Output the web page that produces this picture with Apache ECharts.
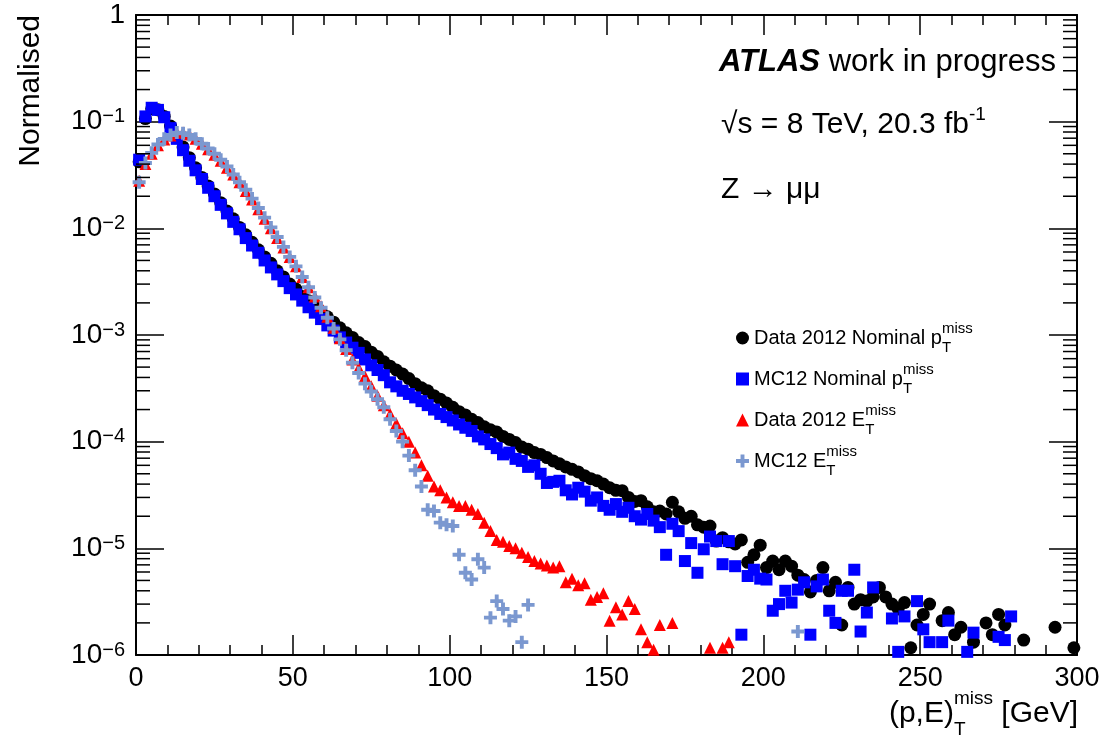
<!DOCTYPE html>
<html>
<head>
<meta charset="utf-8">
<script src="https://cdn.jsdelivr.net/npm/echarts@6/dist/echarts.min.js"></script>
<style>
html,body{margin:0;padding:0;background:#fff;}
#chart{width:1105px;height:752px;}
</style>
</head>
<body>
<div id="chart"></div>
<script>
// ---------------- data ----------------
const binCenters = [1,3,5,7,9,11,13,15,17,19,21,23,25,27,29,31,33,35,37,39,41,43,45,47,49,
  51,53,55,57,59,61,63,65,67,69,71,73,75,77,79,81,83,85,87,89,91,93,95,97,99,
  101,103,105,107,109,111,113,115,117,119,121,123,125,127,129,131,133,135,137,139,141,143,145,147,149,
  151,153,155,157,159,161,163,165,167,169,171,173,175,177,179,181,183,185,187,189,191,193,195,197,199,
  201,203,205,207,209,211,213,215,217,219,221,223,225,227,229,231,233,235,237,239,241,243,245,247,249,
  251,253,255,257,259,261,263,265,267,269,271,273,275,277,279,281,283,285,287,289,291,293,295,297,299];

const xTickLabels = [0, 50, 100, 150, 200, 250, 300];

// Data 2012 Nominal pT miss
const dataNominalPt = [4.2e-2,1.07e-1,1.32e-1,1.29e-1,1.12e-1,9.1e-2,7.2e-2,5.8e-2,4.6e-2,3.7e-2,
  3.0e-2,2.5e-2,2.1e-2,1.74e-2,1.45e-2,1.23e-2,1.02e-2,8.7e-3,7.4e-3,6.3e-3,
  5.4e-3,4.7e-3,4.0e-3,3.5e-3,3.0e-3,2.7e-3,2.3e-3,2.1e-3,1.86e-3,1.66e-3,
  1.48e-3,1.32e-3,1.17e-3,1.05e-3,9.5e-4,8.5e-4,7.8e-4,6.9e-4,6.3e-4,5.6e-4,
  5.1e-4,4.7e-4,4.3e-4,3.9e-4,3.5e-4,3.2e-4,3.0e-4,2.7e-4,2.5e-4,2.3e-4,
  2.1e-4,1.91e-4,1.78e-4,1.62e-4,1.51e-4,1.38e-4,1.29e-4,1.23e-4,1.12e-4,1.05e-4,
  9.8e-5,8.9e-5,8.5e-5,7.9e-5,7.6e-5,7.1e-5,6.6e-5,6.2e-5,5.8e-5,5.5e-5,
  5.2e-5,4.8e-5,4.5e-5,4.3e-5,4.0e-5,3.7e-5,3.5e-5,3.47e-5,3.0e-5,2.75e-5,
  2.8e-5,2.45e-5,2.2e-5,2.24e-5,2.1e-5,2.7e-5,2.2e-5,1.91e-5,2.0e-5,1.66e-5,
  1.58e-5,1.62e-5,1.17e-5,1.26e-5,1.15e-5,1.10e-5,1.20e-5,7.4e-6,8.7e-6,1.07e-5,
  6.6e-6,7.6e-6,6.3e-6,7.6e-6,6.8e-6,5.6e-6,5.1e-6,3.9e-6,5.0e-6,6.6e-6,
  4.0e-6,4.8e-6,1.91e-6,4.3e-6,3.0e-6,3.3e-6,3.2e-6,3.5e-6,4.3e-6,3.5e-6,
  3.0e-6,2.7e-6,3.1e-6,1.17e-6,1.91e-6,2.4e-6,3.0e-6,null,2.1e-6,2.5e-6,
  1.55e-6,1.82e-6,null,1.32e-6,null,2.0e-6,1.55e-6,2.4e-6,1.91e-6,null,
  null,1.38e-6,null,null,null,null,1.82e-6,null,null,1.17e-6];

// MC12 Nominal pT miss
const mcNominalPt = [4.4e-2,1.12e-1,1.35e-1,1.29e-1,1.10e-1,8.7e-2,6.9e-2,5.4e-2,4.3e-2,3.5e-2,
  2.9e-2,2.4e-2,2.0e-2,1.66e-2,1.38e-2,1.15e-2,9.8e-3,8.1e-3,6.9e-3,5.9e-3,
  5.0e-3,4.3e-3,3.7e-3,3.2e-3,2.75e-3,2.4e-3,2.1e-3,1.82e-3,1.62e-3,1.41e-3,
  1.23e-3,1.10e-3,9.5e-4,8.5e-4,7.6e-4,6.8e-4,5.9e-4,5.2e-4,4.7e-4,4.2e-4,
  3.6e-4,3.3e-4,3.0e-4,2.8e-4,2.6e-4,2.4e-4,2.2e-4,2.0e-4,1.82e-4,1.70e-4,
  1.58e-4,1.45e-4,1.35e-4,1.26e-4,1.12e-4,1.05e-4,9.5e-5,8.7e-5,7.6e-5,7.9e-5,
  6.9e-5,6.6e-5,5.8e-5,6.0e-5,5.0e-5,4.1e-5,4.2e-5,4.3e-5,3.5e-5,3.2e-5,
  3.7e-5,3.4e-5,2.8e-5,3.0e-5,2.5e-5,2.3e-5,2.6e-5,2.2e-5,2.4e-5,2.0e-5,
  1.86e-5,2.1e-5,1.82e-5,1.58e-5,8.7e-6,1.70e-5,1.45e-5,7.6e-6,1.12e-5,5.9e-6,
  9.8e-6,1.29e-5,1.17e-5,7.1e-6,1.17e-5,6.8e-6,1.55e-6,5.5e-6,6.3e-6,5.2e-6,
  5.1e-6,2.6e-6,3.0e-6,4.0e-6,3.1e-6,4.1e-6,4.8e-6,1.55e-6,4.4e-6,5.1e-6,
  2.6e-6,2.0e-6,4.0e-6,4.0e-6,6.3e-6,1.66e-6,2.5e-6,4.3e-6,null,null,
  2.2e-6,1.07e-6,2.3e-6,null,3.2e-6,1.74e-6,1.32e-6,null,1.32e-6,2.1e-6,
  null,null,1.07e-6,1.62e-6,null,null,null,1.48e-6,1.38e-6,2.3e-6];

// Data 2012 ET miss
const dataEt = [2.8e-2,4.0e-2,5.0e-2,6.0e-2,6.8e-2,7.4e-2,7.9e-2,7.9e-2,7.6e-2,6.9e-2,
  6.2e-2,5.5e-2,4.9e-2,4.3e-2,3.7e-2,3.2e-2,2.7e-2,2.24e-2,1.86e-2,1.51e-2,
  1.23e-2,1.0e-2,8.1e-3,6.6e-3,5.4e-3,4.4e-3,3.5e-3,2.8e-3,2.3e-3,1.86e-3,
  1.48e-3,1.17e-3,9.3e-4,7.4e-4,5.9e-4,4.9e-4,4.1e-4,3.3e-4,2.7e-4,2.2e-4,
  1.82e-4,1.48e-4,1.20e-4,1.0e-4,7.9e-5,6.0e-5,4.8e-5,3.8e-5,3.5e-5,3.0e-5,
  2.7e-5,2.5e-5,2.5e-5,2.3e-5,2.1e-5,1.74e-5,1.45e-5,1.20e-5,1.15e-5,1.05e-5,
  1.0e-5,9.1e-6,8.3e-6,7.6e-6,7.2e-6,6.9e-6,6.6e-6,6.8e-6,4.8e-6,5.2e-6,
  4.5e-6,4.7e-6,3.3e-6,3.5e-6,3.8e-6,2.1e-6,2.8e-6,2.4e-6,3.2e-6,2.7e-6,
  1.74e-6,1.32e-6,1.12e-6,1.91e-6,null,2.0e-6,null,null,null,null,
  null,1.17e-6,null,1.17e-6,1.32e-6];

// MC12 ET miss
const mcEt = [2.7e-2,4.1e-2,5.1e-2,6.1e-2,6.9e-2,7.5e-2,7.9e-2,7.8e-2,7.5e-2,6.9e-2,
  6.2e-2,5.6e-2,5.0e-2,4.4e-2,3.8e-2,3.2e-2,2.7e-2,2.3e-2,1.9e-2,1.55e-2,
  1.26e-2,1.02e-2,8.3e-3,6.7e-3,5.4e-3,4.4e-3,3.5e-3,2.8e-3,2.25e-3,1.8e-3,
  1.45e-3,1.15e-3,9.1e-4,7.2e-4,5.5e-4,4.4e-4,3.5e-4,2.95e-4,2.5e-4,2.1e-4,
  1.62e-4,1.26e-4,1.0e-4,7.4e-5,5.4e-5,3.8e-5,2.3e-5,2.24e-5,1.74e-5,1.66e-5,
  1.62e-5,8.7e-6,5.9e-6,5.1e-6,7.9e-6,6.6e-6,2.24e-6,3.2e-6,2.7e-6,2.1e-6,
  2.3e-6,1.32e-6,2.95e-6,null,null,null,null,null,null,null,
  null,null,null,null,null,null,null,null,null,null,
  null,null,null,null,null,null,null,null,null,null,
  null,null,null,null,null,null,null,null,null,null,
  null,null,null,null,null,1.66e-6];

const seriesNames = ['Data 2012 Nominal pT miss', 'MC12 Nominal pT miss', 'Data 2012 ET miss', 'MC12 ET miss'];
const yTickExponents = [0, -1, -2, -3, -4, -5, -6];

// ---------------- chart ----------------
const FONT = 'Liberation Sans, Arial, Helvetica, sans-serif';
const toPairs = vals => vals.map((v, i) => v == null ? null : [binCenters[i], v]).filter(p => p);

const chart = echarts.init(document.getElementById('chart'), null, {renderer: 'canvas'});

// minor tick positions on the log axis (2..9 x 10^k)
const minorTickVals = [];
for (let e = -6; e < 0; e++) for (let m = 2; m <= 9; m++) minorTickVals.push([0, m * Math.pow(10, e)]);

const supSub = {
  sub: {fontSize: 15, fontFamily: FONT, color: '#000', verticalAlign: 'bottom', lineHeight: 34, width: 0},
  sup: {fontSize: 15, fontFamily: FONT, color: '#000', verticalAlign: 'top', lineHeight: 34}
};
const legendText = {
  'Data 2012 Nominal pT miss': 'Data 2012 Nominal p{sub|T}{sup|miss}',
  'MC12 Nominal pT miss': 'MC12 Nominal p{sub|T}{sup|miss}',
  'Data 2012 ET miss': 'Data 2012 E{sub|T}{sup|miss}',
  'MC12 ET miss': 'MC12 E{sub|T}{sup|miss}'
};

const xAxisBase = {
  type: 'value', min: 0, max: 300, interval: 50,
  axisLine: {show: true, onZero: false, lineStyle: {color: '#000', width: 2}},
  axisTick: {show: true, inside: true, length: 20, lineStyle: {color: '#000', width: 1.5}},
  minorTick: {show: true, splitNumber: 5, length: 10, lineStyle: {color: '#000', width: 1.5}},
  splitLine: {show: false}
};
const yAxisBase = {
  type: 'log', logBase: 10, min: 1e-6, max: 1, splitNumber: 6,
  axisLine: {show: true, onZero: false, lineStyle: {color: '#000', width: 2}},
  axisTick: {show: true, inside: true, length: 28, lineStyle: {color: '#000', width: 1.5}},
  splitLine: {show: false}
};

const option = {
  backgroundColor: '#fff',
  animation: false,
  grid: {left: 136, right: 28, top: 15, bottom: 97, show: false},
  xAxis: [
    Object.assign({}, xAxisBase, {
      position: 'bottom',
      axisLabel: {show: true, color: '#000', fontSize: 27, fontFamily: FONT, margin: 10,
        formatter: v => xTickLabels.indexOf(v) >= 0 ? String(v) : ''}
    }),
    Object.assign({}, xAxisBase, {position: 'top', axisLabel: {show: false}})
  ],
  yAxis: [
    Object.assign({}, yAxisBase, {
      position: 'left',
      axisLabel: {
        show: true, color: '#000', fontSize: 28, fontFamily: FONT, margin: 11,
        formatter: v => {
          const e = Math.round(Math.log10(v));
          if (yTickExponents.indexOf(e) < 0) return '';
          return e === 0 ? '1' : '10{s|\u2212' + (-e) + '}';
        },
        rich: {
          s: {fontSize: 20, fontFamily: FONT, color: '#000', verticalAlign: 'top', lineHeight: 30}
        }
      }
    }),
    Object.assign({}, yAxisBase, {position: 'right', axisLabel: {show: false}})
  ],
  legend: {
    orient: 'vertical', left: 731, top: 316, itemGap: 7, itemWidth: 13, itemHeight: 13,
    data: seriesNames, selectedMode: false,
    formatter: name => legendText[name],
    textStyle: {fontSize: 20, fontFamily: FONT, color: '#000', lineHeight: 34, rich: supSub}
  },
  graphic: [
    {type: 'text', left: 719, top: 47, silent: true,
      style: {text: '{b|ATLAS} work in progress', font: '31px ' + FONT, fill: '#000',
        rich: {b: {fontWeight: 'bold', fontStyle: 'italic', fontSize: 31, fontFamily: FONT, fill: '#000'}}}},
    {type: 'text', left: 721, top: 105, silent: true,
      style: {text: '\u221As = 8 TeV, 20.3 fb{s|-1}', font: '30px ' + FONT, fill: '#000',
        rich: {s: {fontSize: 19, fontFamily: FONT, verticalAlign: 'top', lineHeight: 40}}}},
    {type: 'text', left: 721, top: 175, silent: true,
      style: {text: 'Z \u2192 \u03BC\u03BC', font: '30px ' + FONT, fill: '#000'}},
    {type: 'text', right: 27, top: 689, silent: true,
      style: {text: '(p,E){b|T}{a|miss} [GeV]', font: '30px ' + FONT, fill: '#000',
        rich: {
          b: {fontSize: 19, fontFamily: FONT, verticalAlign: 'bottom', lineHeight: 50, width: 0},
          a: {fontSize: 19, fontFamily: FONT, verticalAlign: 'top', lineHeight: 50}
        }}},
    {type: 'text', x: 31, y: 15, rotation: Math.PI / 2, silent: true,
      style: {text: 'Normalised', font: '30px ' + FONT, fill: '#000', align: 'right', verticalAlign: 'middle'}}
  ],
  series: [
    {name: seriesNames[0], type: 'scatter', symbol: 'circle', symbolSize: 13,
      itemStyle: {color: '#000000', opacity: 1}, data: toPairs(dataNominalPt), z: 3},
    {name: seriesNames[1], type: 'scatter', symbol: 'rect', symbolSize: 12,
      itemStyle: {color: '#0000ff', opacity: 1}, data: toPairs(mcNominalPt), z: 4},
    {name: seriesNames[2], type: 'scatter', symbol: 'triangle', symbolSize: 12,
      itemStyle: {color: '#ff0000', opacity: 1}, data: toPairs(dataEt), z: 5},
    {name: seriesNames[3], type: 'scatter', symbol: 'path://M3.5,0H6.5V3.5H10V6.5H6.5V10H3.5V6.5H0V3.5H3.5Z', symbolSize: 13,
      itemStyle: {color: '#7b98d0', opacity: 1}, data: toPairs(mcEt), z: 6},
    {name: 'minorTicks', type: 'custom', silent: true, z: 10, clip: false,
      data: minorTickVals,
      renderItem: (params, api) => {
        const p = api.coord([0, api.value(1)]);
        const cs = params.coordSys;
        const st = {stroke: '#000', lineWidth: 1.5};
        return {type: 'group', children: [
          {type: 'line', shape: {x1: cs.x, y1: p[1], x2: cs.x + 14, y2: p[1]}, style: st},
          {type: 'line', shape: {x1: cs.x + cs.width, y1: p[1], x2: cs.x + cs.width - 14, y2: p[1]}, style: st}
        ]};
      }}
  ]
};
chart.setOption(option);
</script>
</body>
</html>
